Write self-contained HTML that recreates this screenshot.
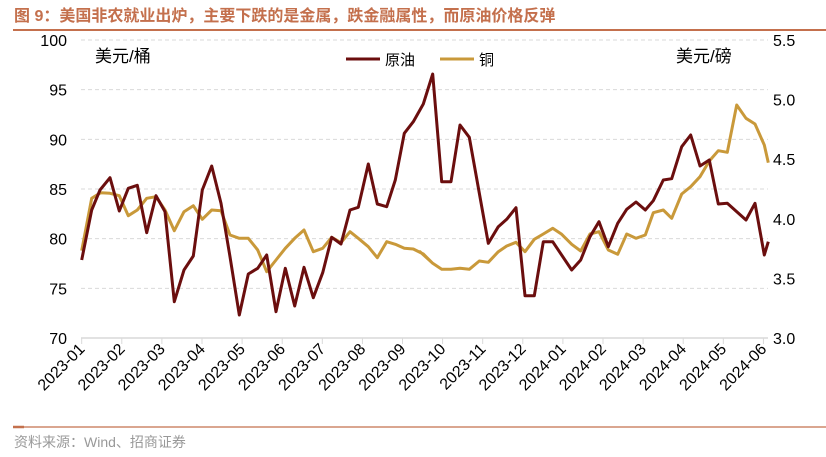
<!DOCTYPE html>
<html><head><meta charset="utf-8"><style>
body{margin:0;background:#fff;width:826px;height:457px;overflow:hidden}
svg{display:block}
text{font-family:"Liberation Sans","Noto Sans CJK SC",sans-serif}
</style></head><body>
<svg id="s" width="826" height="457" xmlns="http://www.w3.org/2000/svg">
<text x="14" y="21" font-size="16" font-weight="bold" fill="#C4704D">图 9：美国非农就业出炉，主要下跌的是金属，跌金融属性，而原油价格反弹</text>
<line x1="13" y1="30" x2="826" y2="30" stroke="#C4704D" stroke-width="2"/>
<g id="grid" stroke="#d9d9d9" stroke-dasharray="4,3" stroke-width="1"></g>
<line x1="81" y1="338" x2="768" y2="338" stroke="#d9d9d9" stroke-width="1.5"/>
<g id="ticks" stroke="#d9d9d9" stroke-width="1"></g>
<g id="ylab" font-size="16" fill="#000"></g>
<g id="xlab" font-size="16" fill="#000"></g>
<text x="95" y="62" font-size="17" fill="#000" font-family="'Noto Serif CJK SC',serif">美元/桶</text>
<text x="676" y="62" font-size="17" fill="#000" font-family="'Noto Serif CJK SC',serif">美元/磅</text>
<line x1="346" y1="59" x2="380" y2="59" stroke="#6B0E0E" stroke-width="3"/>
<text x="385" y="65" font-size="15">原油</text>
<line x1="440" y1="59" x2="474" y2="59" stroke="#C9993A" stroke-width="3"/>
<text x="479" y="65" font-size="15">铜</text>
<polyline id="cu" fill="none" stroke="#C9993A" stroke-width="3" stroke-linejoin="round"/>
<polyline id="oil" fill="none" stroke="#6B0E0E" stroke-width="3" stroke-linejoin="round"/>
<line x1="13" y1="427" x2="826" y2="427" stroke="#C4704D" stroke-width="1.2"/>
<line x1="13" y1="427" x2="24" y2="427" stroke="#C4704D" stroke-width="2.5"/>
<text x="14" y="447" font-size="14" fill="#999">资料来源：Wind、招商证券</text>
</svg>
<script>
var NS="http://www.w3.org/2000/svg";
function el(p,t,a,txt){var e=document.createElementNS(NS,t);for(var k in a)e.setAttribute(k,a[k]);if(txt)e.textContent=txt;document.getElementById(p).appendChild(e);}
for(var i=0;i<7;i++){var y=40+i*49.67;if(i<6)el("grid","line",{x1:81,x2:768,y1:y,y2:y});
el("ylab","text",{x:67,y:y+6,"text-anchor":"end"},String(100-5*i));}
for(var i=0;i<6;i++){var y=40+i*59.6;el("ylab","text",{x:773,y:y+6},(5.5-0.5*i).toFixed(1));}
var labs=["2023-01","2023-02","2023-03","2023-04","2023-05","2023-06","2023-07","2023-08","2023-09","2023-10","2023-11","2023-12","2024-01","2024-02","2024-03","2024-04","2024-05","2024-06"];
for(var i=0;i<18;i++){var x=81.7+i*40.1;el("ticks","line",{x1:x,x2:x,y1:338,y2:344});
el("xlab","text",{x:0,y:0,"text-anchor":"end",transform:"translate("+(x+4)+",350) rotate(-45)"},labs[i]);}
var o1=[[65,690],[95,540],[120,480],[150,443],[178,543],[205,475],[232,466],[260,608],[288,497],[315,545],[343,815],[372,720],[400,678],[427,480],[455,408],[483,520],[510,680],[538,855],[565,732],[593,715],[620,675],[648,845],[676,715],[704,828],[732,712],[760,803],[788,728],[815,622],[843,642],[870,540],[895,532],[925,402],[952,522],[980,530],[1006,450],[1033,310],[1060,275],[1090,222],[1118,132]];
var o2=[[38,132],[65,455],[93,455],[120,285],[148,322],[205,640],[235,590],[260,568],[288,533],[315,797],[343,797],[370,635],[398,635],[455,720],[482,690],[510,620],[537,575],[565,650],[593,580],[620,538],[648,516],[676,540],[700,512],[730,450],[755,446],[785,350],[812,315],[840,408],[868,390],[895,522],[922,520],[978,570],[1005,520],[1033,675],[1045,635]];
var c1=[[65,662],[95,505],[122,488],[150,490],[178,497],[205,557],[232,540],[260,505],[288,500],[315,540],[343,602],[372,545],[400,527],[427,568],[455,540],[483,542],[510,615],[538,625],[565,625],[593,660],[620,725],[648,690],[676,655],[704,625],[732,600],[760,665],[788,655],[815,622],[843,638],[870,605],[895,625],[925,650],[952,683],[980,635],[1006,643],[1033,655],[1060,657],[1090,672],[1118,700]];
var c2=[[0,665],[38,700],[65,718],[93,718],[120,715],[148,718],[178,693],[205,697],[235,665],[260,648],[288,637],[315,665],[343,628],[370,612],[398,595],[425,613],[455,643],[482,663],[510,612],[537,605],[565,660],[593,673],[620,612],[648,625],[676,615],[700,548],[730,540],[755,565],[785,492],[812,470],[840,440],[868,393],[895,362],[922,367],[950,225],[978,265],[1005,282],[1033,345],[1045,398]];
function pts(a,ox){return a.map(function(p){return (ox+p[0]/3).toFixed(1)+","+(30+p[1]/3).toFixed(1)}).join(" ");}
document.getElementById("oil").setAttribute("points",pts(o1,60)+" "+pts(o2,420));
document.getElementById("cu").setAttribute("points",pts(c1,60)+" "+pts(c2,420));
</script>
</body></html>
